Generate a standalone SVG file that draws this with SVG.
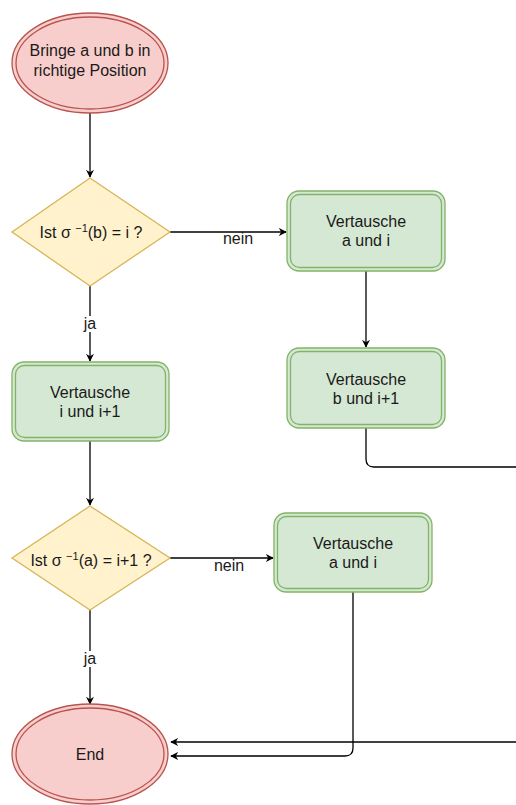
<svg xmlns="http://www.w3.org/2000/svg" width="516" height="805" viewBox="0 0 516 805">
  <style>
    text { font-family: "Liberation Sans", Arial, sans-serif; font-size: 16px; fill: #1a1a1a; text-anchor: middle; }
    .term { fill: #f8cecc; stroke: #b85450; stroke-width: 1.3; }
    .term-in { fill: none; stroke: #b85450; stroke-width: 1.3; }
    .dec { fill: #fff2cc; stroke: #d6b656; stroke-width: 1.3; }
    .proc { fill: #d5e8d4; stroke: #82b366; stroke-width: 1.3; }
    .proc-in { fill: none; stroke: #82b366; stroke-width: 1.3; }
    .edge { fill: none; stroke: #000; stroke-width: 1.3; }
    .lbl-bg { fill: #fff; }
    .sup { font-size: 11px; }
  </style>
  <defs>
    <marker id="arrow" viewBox="0 0 10 10" refX="9" refY="5" markerWidth="8" markerHeight="8" markerUnits="userSpaceOnUse" orient="auto">
      <path d="M0,0 L10,5 L0,10 L3,5 Z" fill="#000"/>
    </marker>
  </defs>

  <rect width="516" height="805" fill="#fff"/>

  <!-- connectors -->
  <g id="connectors">
    <path class="edge" d="M90,113 V177" marker-end="url(#arrow)"/>
    <path class="edge" d="M170,232 H286" marker-end="url(#arrow)"/>
    <path class="edge" d="M366,271 V347" marker-end="url(#arrow)"/>
    <path class="edge" d="M366,428 V459 Q366,467 374,467 H516"/>
    <path class="edge" d="M90,286 V361" marker-end="url(#arrow)"/>
    <path class="edge" d="M90,441 V505" marker-end="url(#arrow)"/>
    <path class="edge" d="M170,558 H273" marker-end="url(#arrow)"/>
    <path class="edge" d="M90,610 V704" marker-end="url(#arrow)"/>
    <path class="edge" d="M353,592 V748 Q353,756 345,756 H171" marker-end="url(#arrow)"/>
    <path class="edge" d="M516,742 H171" marker-end="url(#arrow)"/>

    <!-- edge labels -->
    <rect class="lbl-bg" x="222" y="234" width="32" height="14"/>
    <text x="238" y="244">nein</text>
    <rect class="lbl-bg" x="213" y="560" width="32" height="14"/>
    <text x="229" y="571">nein</text>
    <rect class="lbl-bg" x="82" y="316" width="16" height="16"/>
    <text x="90" y="329">ja</text>
    <rect class="lbl-bg" x="82" y="651" width="16" height="16"/>
    <text x="90" y="664">ja</text>
  </g>

  <!-- start -->
  <g id="start">
    <ellipse class="term" cx="90" cy="63" rx="78" ry="50"/>
    <ellipse class="term-in" cx="90" cy="63" rx="74" ry="46"/>
    <text x="90" y="56">Bringe a und b in</text>
    <text x="90" y="76">richtige Position</text>
  </g>

  <!-- decision 1 -->
  <g id="check-b">
    <polygon class="dec" points="90,178 170,232 90,286 12,232"/>
    <text x="91" y="238">Ist σ <tspan class="sup" dy="-6">−1</tspan><tspan dy="6">(b) = i ?</tspan></text>
  </g>

  <!-- swap a and i -->
  <g id="swap-a-i-1">
    <rect class="proc" x="287" y="191" width="158" height="80" rx="12"/>
    <rect class="proc-in" x="290.5" y="194.5" width="151" height="73" rx="9"/>
    <text x="366" y="227">Vertausche</text>
    <text x="366" y="246">a und i</text>
  </g>

  <!-- swap b and i+1 -->
  <g id="swap-b-i1">
    <rect class="proc" x="287" y="348" width="158" height="80" rx="12"/>
    <rect class="proc-in" x="290.5" y="351.5" width="151" height="73" rx="9"/>
    <text x="366" y="385">Vertausche</text>
    <text x="366" y="404">b und i+1</text>
  </g>

  <!-- swap i and i+1 -->
  <g id="swap-i-i1">
    <rect class="proc" x="12" y="362" width="157" height="79" rx="12"/>
    <rect class="proc-in" x="15.5" y="365.5" width="150" height="72" rx="9"/>
    <text x="90" y="398">Vertausche</text>
    <text x="90" y="417">i und i+1</text>
  </g>

  <!-- decision 2 -->
  <g id="check-a">
    <polygon class="dec" points="90,506 170,558 90,610 12,558"/>
    <text x="91" y="566">Ist σ <tspan class="sup" dy="-6">−1</tspan><tspan dy="6">(a) = i+1 ?</tspan></text>
  </g>

  <!-- swap a and i (second) -->
  <g id="swap-a-i-2">
    <rect class="proc" x="274" y="513" width="158" height="79" rx="12"/>
    <rect class="proc-in" x="277.5" y="516.5" width="151" height="72" rx="9"/>
    <text x="353" y="549">Vertausche</text>
    <text x="353" y="568">a und i</text>
  </g>

  <!-- end -->
  <g id="end">
    <ellipse class="term" cx="90" cy="754" rx="78" ry="50"/>
    <ellipse class="term-in" cx="90" cy="754" rx="74" ry="46"/>
    <text x="90" y="760">End</text>
  </g>
</svg>
